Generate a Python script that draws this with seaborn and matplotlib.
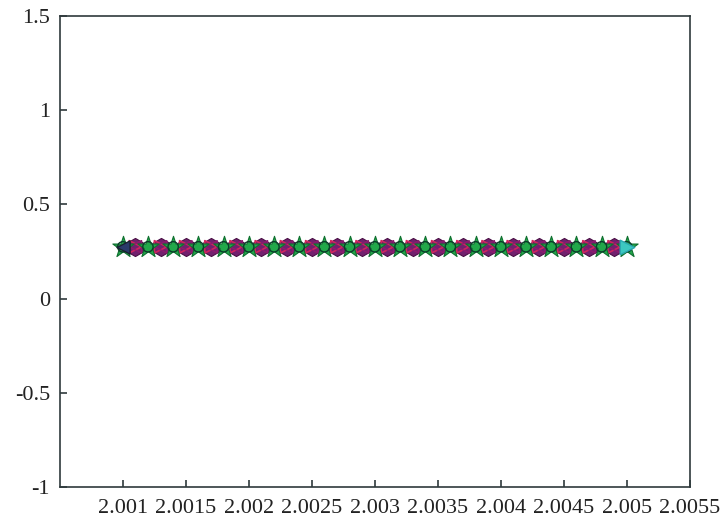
import matplotlib
matplotlib.use("Agg")
import matplotlib.pyplot as plt
import seaborn as sns
import pandas as pd

# marker positions (step 0.0001 from 2.001 to 2.005)
x_green = [2.0010, 2.0012, 2.0014, 2.0016, 2.0018, 2.0020, 2.0022, 2.0024, 2.0026, 2.0028,
           2.0030, 2.0032, 2.0034, 2.0036, 2.0038, 2.0040, 2.0042, 2.0044, 2.0046, 2.0048,
           2.0050]
x_purple = [2.0011, 2.0013, 2.0015, 2.0017, 2.0019, 2.0021, 2.0023, 2.0025, 2.0027, 2.0029,
            2.0031, 2.0033, 2.0035, 2.0037, 2.0039, 2.0041, 2.0043, 2.0045, 2.0047, 2.0049]
x_start = [2.0010]
x_end = [2.0050]
y_level = 0.275

sns.set_style("white")
plt.rcParams["font.family"] = ["Liberation Serif", "DejaVu Serif"]

fig = plt.figure(figsize=(7.2, 5.24), dpi=100)
ax = fig.add_axes([0.083, 0.071, 0.875, 0.898])

purple = pd.DataFrame({"x": x_purple, "y": [y_level] * len(x_purple)})
green = pd.DataFrame({"x": x_green, "y": [y_level] * len(x_green)})
start = pd.DataFrame({"x": x_start, "y": [y_level] * len(x_start)})
end = pd.DataFrame({"x": x_end, "y": [y_level] * len(x_end)})

# purple / red clusters
sns.scatterplot(data=purple, x="x", y="y", ax=ax, marker="h", s=170,
                color="#72206e", edgecolor="#4a1046", linewidth=0.8, legend=False)
sns.scatterplot(data=purple, x="x", y="y", ax=ax, marker=">", s=80,
                color="none", edgecolor="#d0245e", linewidth=1.2, legend=False)
sns.scatterplot(data=purple, x="x", y="y", ax=ax, marker="<", s=80,
                color="none", edgecolor="#8e1a6e", linewidth=1.0, legend=False)
# green clusters
sns.scatterplot(data=green, x="x", y="y", ax=ax, marker="*", s=260,
                color="#22a84a", edgecolor="#107030", linewidth=0.8, legend=False)
sns.scatterplot(data=green, x="x", y="y", ax=ax, marker="o", s=55,
                color="none", edgecolor="#0b3d2a", linewidth=1.0, legend=False)
# ends
sns.scatterplot(data=start, x="x", y="y", ax=ax, marker="<", s=90,
                color="#2a3a6a", edgecolor="#1a2030", linewidth=1.0, legend=False)
sns.scatterplot(data=end, x="x", y="y", ax=ax, marker=">", s=110,
                color="#3cc8c0", edgecolor="#2aa8b0", linewidth=1.0, legend=False)

ax.set_xlim(2.0005, 2.0055)
ax.set_ylim(-1, 1.5)
ax.set_xticks([2.001, 2.0015, 2.002, 2.0025, 2.003, 2.0035, 2.004, 2.0045, 2.005, 2.0055])
ax.set_xticklabels(["2.001", "2.0015", "2.002", "2.0025", "2.003", "2.0035",
                    "2.004", "2.0045", "2.005", "2.0055"])
ax.set_yticks([-1, -0.5, 0, 0.5, 1, 1.5])
ax.set_yticklabels(["-1", "-0.5", "0", "0.5", "1", "1.5"])
ax.set_xlabel("")
ax.set_ylabel("")

edge = "#2f3a3c"
for sp in ax.spines.values():
    sp.set_visible(True)
    sp.set_color(edge)
    sp.set_linewidth(1.2)
ax.tick_params(axis="both", direction="in", length=5, width=1.2, color=edge,
               bottom=True, left=True, labelsize=16, labelcolor="#222222", pad=7)
ax.tick_params(axis="x", pad=9)

fig.savefig("out.png", dpi=100)
